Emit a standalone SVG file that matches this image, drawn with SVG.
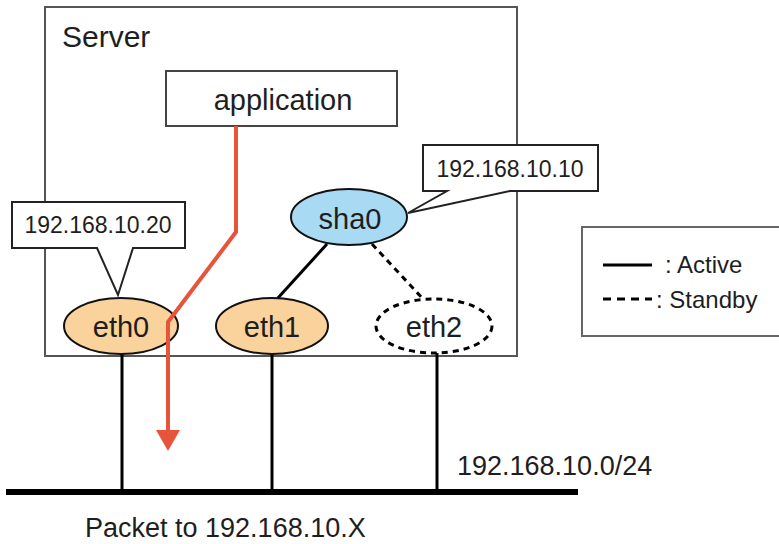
<svg xmlns="http://www.w3.org/2000/svg" width="779" height="544" viewBox="0 0 779 544">
<defs>
<style>
text{font-family:"Liberation Sans",Arial,sans-serif;fill:#1e1e1e}
.box{fill:#fff;stroke:#444;stroke-width:2}
.eth{fill:#f9d39b;stroke:#111;stroke-width:2}
.wire{stroke:#000;stroke-width:3;fill:none}
.dash{stroke:#000;stroke-width:3;fill:none;stroke-dasharray:6 5}
.lbl{font-size:29px;text-anchor:middle}
.ip{font-size:23px;text-anchor:middle}
</style>
</defs>
<rect width="779" height="544" fill="#fff"/>
<g id="server"><rect x="45" y="7" width="472" height="349" fill="#fff" stroke="#555" stroke-width="2"/>
<text x="62" y="47" font-size="30">Server</text></g>
<g id="connectors">
<line class="wire" x1="122" y1="354" x2="122" y2="492"/>
<line class="wire" x1="272" y1="354" x2="272" y2="492"/>
<line class="wire" x1="437" y1="353" x2="437" y2="492"/>
<line x1="6" y1="492" x2="578" y2="492" stroke="#000" stroke-width="6"/>
<line class="wire" x1="327" y1="244" x2="277" y2="299"/>
<line class="dash" x1="372" y1="244" x2="424" y2="300"/>
</g>
<g id="application"><rect class="box" x="166" y="71" width="231" height="55"/>
<text class="lbl" x="283" y="110" font-size="30">application</text></g>
<g id="sha0"><ellipse cx="349" cy="217" rx="58" ry="28" fill="#a8daf3" stroke="#111" stroke-width="2"/>
<text class="lbl" x="350" y="229">sha0</text></g>
<g id="eth0"><ellipse class="eth" cx="121" cy="326" rx="57" ry="28"/>
<text class="lbl" x="121" y="337">eth0</text></g>
<g id="eth1"><ellipse class="eth" cx="272" cy="326" rx="56" ry="28"/>
<text class="lbl" x="272" y="337">eth1</text></g>
<g id="eth2"><ellipse cx="434" cy="326" rx="58" ry="27" fill="#fff" stroke="#000" stroke-width="3" stroke-dasharray="6 5"/>
<text class="lbl" x="434" y="337">eth2</text></g>
<g id="callout-eth0"><path d="M12,202 H185 V248 H133 L118,295 L97,248 H12 Z" fill="#fff" stroke="#222" stroke-width="2"/>
<text class="ip" x="98" y="233">192.168.10.20</text></g>
<g id="callout-sha0"><path d="M423,145 H598 V191 H510 L408,213 L447,191 H423 Z" fill="#fff" stroke="#222" stroke-width="2"/>
<text class="ip" x="510" y="177">192.168.10.10</text></g>
<g id="flow"><polyline points="236,126 236,232 168,322 168,432" fill="none" stroke="#e8543a" stroke-width="4"/>
<polygon points="156,430 180,430 168,451" fill="#e8543a"/></g>
<g id="legend"><rect x="582" y="227" width="205" height="109" fill="#fff" stroke="#666" stroke-width="2"/>
<line x1="603" y1="265" x2="652" y2="265" stroke="#000" stroke-width="3"/>
<line x1="603" y1="299" x2="652" y2="299" stroke="#000" stroke-width="3" stroke-dasharray="8 6"/>
<text x="665" y="273" font-size="24">: Active</text>
<text x="656" y="308" font-size="24">: Standby</text></g>
<g id="labels"><text x="457" y="475" font-size="27">192.168.10.0/24</text>
<text x="85" y="537" font-size="27">Packet to 192.168.10.X</text></g>
</svg>
